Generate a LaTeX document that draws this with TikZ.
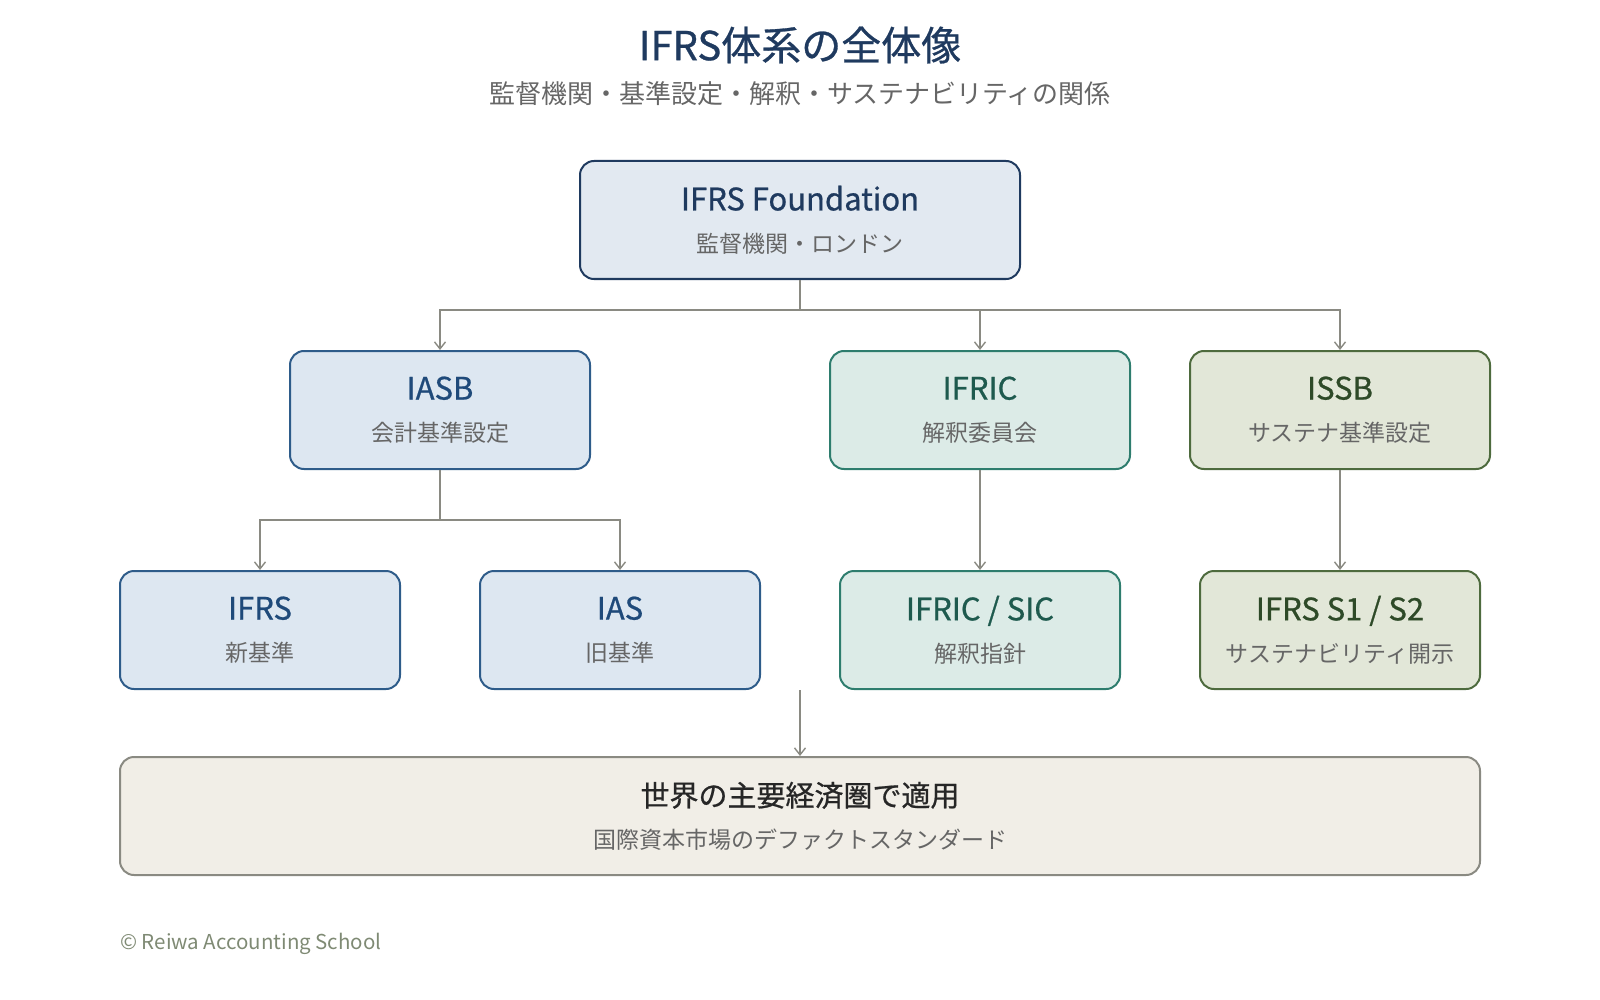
\documentclass[tikz,border=0pt]{standalone}
\usepackage{fontspec}
\setmainfont{Noto Sans CJK JP}
\newfontface\medfont{Noto Sans CJK JP}[FakeBold=0.7]
\usepackage{xcolor}
\usepackage{tikz}
\usetikzlibrary{arrows.meta,positioning,calc}
\definecolor{navy}{HTML}{1F3A5F}
\definecolor{subgray}{HTML}{666666}
\definecolor{linegray}{HTML}{8A8A82}
\definecolor{fndfill}{HTML}{E2E9F1}
\definecolor{blfill}{HTML}{DDE7F1}
\definecolor{bldraw}{HTML}{2E5C8A}
\definecolor{bltext}{HTML}{1F4A7A}
\definecolor{tlfill}{HTML}{DCEBE7}
\definecolor{tldraw}{HTML}{2E7D6E}
\definecolor{tltext}{HTML}{1E5A4E}
\definecolor{olfill}{HTML}{E2E7D8}
\definecolor{oldraw}{HTML}{4E6B3E}
\definecolor{oltext}{HTML}{2E4A28}
\definecolor{bgfill}{HTML}{F1EEE7}
\definecolor{credit}{HTML}{7F8A74}
\newcommand\cardtext[4][31]{{\medfont\fontsize{#1}{42}\selectfont\color{#4}#2}\\{\fontsize{23}{42}\selectfont\color{subgray}#3}}

\begin{document}
\begin{tikzpicture}[x=1pt,y=-1pt,
    card/.style={draw,rounded corners=14pt,line width=2pt,minimum height=118pt,
      align=center,inner sep=0pt,font=\fontsize{23}{42}\selectfont},
    bluecard/.style={card,fill=blfill,draw=bldraw},
    tealcard/.style={card,fill=tlfill,draw=tldraw},
    olivecard/.style={card,fill=olfill,draw=oldraw},
    link/.style={draw=linegray,line width=1.6pt},
    feed/.style={link,-{Straight Barb[length=7pt,width=11pt,line width=1.4pt]}}]
  \useasboundingbox (0,0) rectangle (1600,1000);
  % heading
  \node[font=\medfont\fontsize{40}{48}\selectfont,text=navy] (title) at (800,45) {IFRS体系の全体像};
  \node[font=\fontsize{26}{30}\selectfont,text=subgray] (subtitle) at (800,94)
    {監督機関・基準設定・解釈・サステナビリティの関係};
  % cards
  \node[card,fill=fndfill,draw=navy,minimum width=440pt] (fnd) at (800,220)
    {\cardtext{IFRS Foundation}{監督機関・ロンドン}{navy}};
  \node[bluecard,minimum width=300pt] (iasb) at (440,410) {\cardtext{IASB}{会計基準設定}{bltext}};
  \node[tealcard,minimum width=300pt] (ifric) at (980,410) {\cardtext{IFRIC}{解釈委員会}{tltext}};
  \node[olivecard,minimum width=300pt] (issb) at (1340,410) {\cardtext{ISSB}{サステナ基準設定}{oltext}};
  \node[bluecard,minimum width=280pt] (ifrs) at (260,630) {\cardtext{IFRS}{新基準}{bltext}};
  \node[bluecard,minimum width=280pt] (ias) at (620,630) {\cardtext{IAS}{旧基準}{bltext}};
  \node[tealcard,minimum width=280pt] (sic) at (980,630) {\cardtext{IFRIC / SIC}{解釈指針}{tltext}};
  \node[olivecard,minimum width=280pt] (s12) at (1340,630) {\cardtext{IFRS S1 / S2}{サステナビリティ開示}{oltext}};
  \node[card,fill=bgfill,draw=linegray,minimum width=1360pt] (world) at (800,816)
    {\cardtext[29]{世界の主要経済圏で適用}{国際資本市場のデファクトスタンダード}{black!85}};
  % connectors
  \coordinate (j1) at ($(fnd.south)+(0,30)$);
  \draw[link] (fnd.south) -- (j1);
  \foreach \n in {iasb,ifric,issb}
    \draw[feed] (j1) -| (\n.north);
  \coordinate (j2) at ($(iasb.south)+(0,50)$);
  \draw[link] (iasb.south) -- (j2);
  \foreach \n in {ifrs,ias}
    \draw[feed] (j2) -| (\n.north);
  \draw[feed] (ifric.south) -- (sic.north);
  \draw[feed] (issb.south) -- (s12.north);
  \coordinate (tail) at (800,690);
  \draw[feed] (tail) -- (world.north);
  % credit
  \node[anchor=west,font=\fontsize{20.5}{24}\selectfont,text=credit,inner sep=0pt] (copy) at (120,944)
    {© Reiwa Accounting School};
\end{tikzpicture}
\end{document}
